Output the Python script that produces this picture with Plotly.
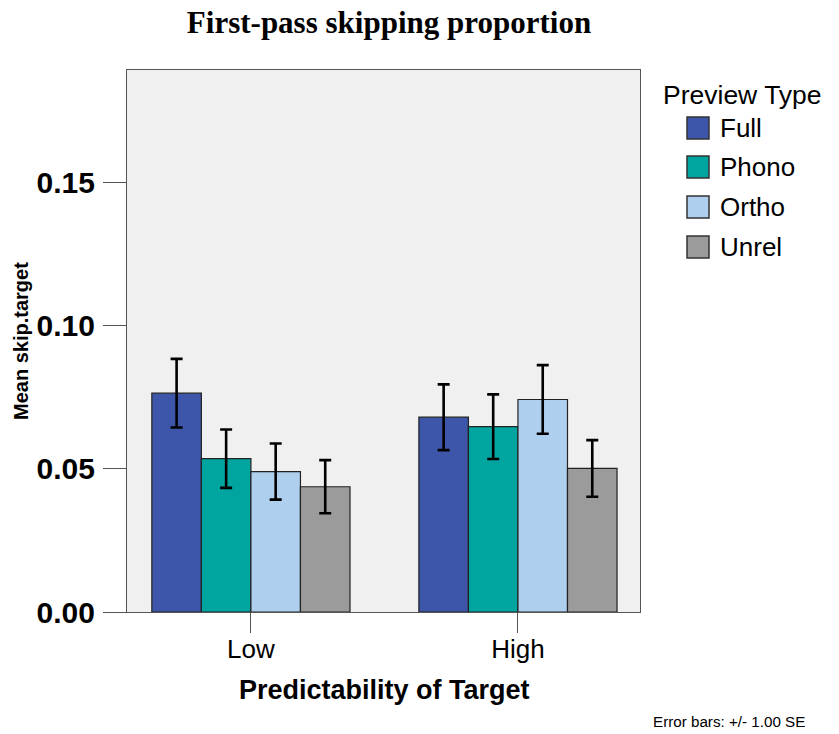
import plotly.graph_objects as go

# Mean first-pass skipping proportions with standard errors
categories = ["Low", "High"]
preview_types = ["Full", "Phono", "Ortho", "Unrel"]
means = {
    "Full":  [0.0765, 0.0681],
    "Phono": [0.0536, 0.0648],
    "Ortho": [0.0491, 0.0743],
    "Unrel": [0.0438, 0.0502],
}
std_err = {
    "Full":  [0.0120, 0.0115],
    "Phono": [0.0102, 0.0113],
    "Ortho": [0.0098, 0.0120],
    "Unrel": [0.0093, 0.0099],
}
colors = {
    "Full": "#3e56aa",
    "Phono": "#00a59f",
    "Ortho": "#aecfee",
    "Unrel": "#9b9b9b",
}
y_ticks = [0.0, 0.05, 0.10, 0.15]

fig = go.Figure()
for name in preview_types:
    fig.add_trace(go.Bar(
        x=categories, y=means[name], name=name,
        marker=dict(color=colors[name], line=dict(color="#222222", width=1.2)),
        error_y=dict(type="data", array=std_err[name], visible=True,
                     color="#000000", thickness=2.6, width=6),
        showlegend=False,
    ))

W, H = 839, 734
L, R, T, B = 127, 199, 70, 122
PW, PH = W - L - R, H - T - B


def px(x):
    """Pixel column -> paper x (relative to plot area)."""
    return (x - L) / PW


def py(y):
    """Pixel row -> paper y (relative to plot area)."""
    return 1 - (y - T) / PH


SANS = "Liberation Sans, Arial, sans-serif"
FRAME = "#555555"

fig.update_layout(
    width=W, height=H,
    margin=dict(l=L, r=R, t=T, b=B),
    paper_bgcolor="white",
    plot_bgcolor="#f0f0f0",
    barmode="group",
    bargap=0.258,
    bargroupgap=0,
    font=dict(family=SANS, color="#000000"),
    title=dict(text="<b>First-pass skipping proportion</b>",
               font=dict(family="Liberation Serif, Times New Roman, serif", size=31),
               x=389 / W, xanchor="center", y=1 - 22 / H, yanchor="middle"),
)

fig.update_xaxes(
    type="category", range=[-0.464, 1.457],
    showline=True, linecolor=FRAME, linewidth=1.3, mirror=True,
    ticks="outside", ticklen=20, tickcolor=FRAME, tickwidth=1.3,
    tickfont=dict(size=26), ticklabelstandoff=-6,
    showgrid=False, zeroline=False,
)
fig.update_yaxes(
    range=[0, 0.1895], tickvals=y_ticks, tickformat=".2f",
    showline=True, linecolor=FRAME, linewidth=1.3, mirror=True,
    ticks="outside", ticklen=23, tickcolor=FRAME, tickwidth=1.3,
    tickfont=dict(size=30, family=SANS, weight="bold"),
    ticklabelstandoff=2,
    showgrid=False, zeroline=False,
)

annotations = [
    dict(text="<b>Predictability of Target</b>", x=px(384), y=py(690),
         xref="paper", yref="paper", xanchor="center", yanchor="middle",
         showarrow=False, font=dict(size=27)),
    dict(text="<b>Mean skip.target</b>", x=px(21), y=py(341),
         xref="paper", yref="paper", xanchor="center", yanchor="middle",
         textangle=-90, showarrow=False, font=dict(size=20)),
    dict(text="Error bars: +/- 1.00 SE", x=px(807), y=py(721),
         xref="paper", yref="paper", xanchor="right", yanchor="middle",
         showarrow=False, font=dict(size=15.2)),
    dict(text="Preview Type", x=px(661), y=py(95),
         xref="paper", yref="paper", xanchor="left", yanchor="middle",
         showarrow=False, font=dict(size=26.5)),
]

# Legend drawn as swatches with labels in paper coordinates
shapes = []
legend_y = [128, 167, 207, 247]
for name, cy in zip(preview_types, legend_y):
    x0, x1 = 687, 709
    y0, y1 = cy - 11, cy + 11
    shapes.append(dict(type="rect", xref="paper", yref="paper",
                       x0=px(x0), x1=px(x1), y0=py(y1), y1=py(y0),
                       fillcolor=colors[name], line=dict(color="#333333", width=1.5)))
    annotations.append(dict(text=name, x=px(718), y=py(cy),
                            xref="paper", yref="paper", xanchor="left", yanchor="middle",
                            showarrow=False, font=dict(size=26)))

fig.update_layout(annotations=annotations, shapes=shapes)

fig.write_html("out.html")
